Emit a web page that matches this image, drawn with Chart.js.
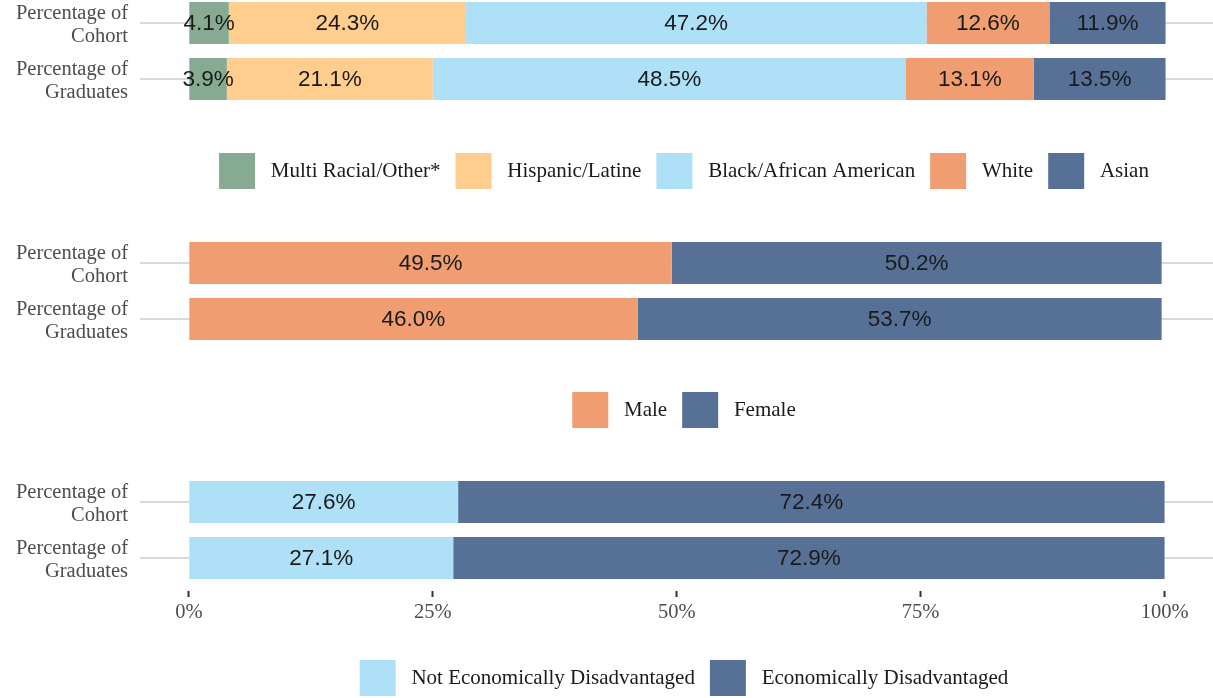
<!DOCTYPE html>
<html>
<head>
<meta charset="utf-8">
<script src="https://cdn.jsdelivr.net/npm/chart.js@4/dist/chart.umd.min.js"></script>
<style>
  html, body { margin: 0; padding: 0; background: #fff; overflow: hidden; }
  body { width: 1213px; height: 698px; position: relative; }
  canvas { position: absolute; left: 0; }
</style>
</head>
<body>
<canvas id="race" width="1228" height="204" style="top:-5px"></canvas>
<canvas id="gender" width="1228" height="203" style="top:235px"></canvas>
<canvas id="econ" width="1228" height="232" style="top:474px"></canvas>
<script>
const categories = [['Percentage of', 'Cohort'], ['Percentage of', 'Graduates']];

const raceSeries = ['Multi Racial/Other*', 'Hispanic/Latine', 'Black/African American', 'White', 'Asian'];
const raceCohort = [4.1, 24.3, 47.2, 12.6, 11.9];
const raceGraduates = [3.9, 21.1, 48.5, 13.1, 13.5];
const raceColors = ['#87ab92', '#ffce8f', '#aee0f8', '#f09e71', '#577096'];

const genderSeries = ['Male', 'Female'];
const genderCohort = [49.5, 50.2];
const genderGraduates = [46.0, 53.7];
const genderColors = ['#f09e71', '#577096'];

const econSeries = ['Not Economically Disadvantaged', 'Economically Disadvantaged'];
const econCohort = [27.6, 72.4];
const econGraduates = [27.1, 72.9];
const econColors = ['#aee0f8', '#577096'];

const xTicks = [0, 25, 50, 75, 100];

// writes the value in the middle of each bar segment
const barLabels = {
    id: 'barLabels',
    afterDatasetsDraw(chart) {
        const ctx = chart.ctx;
        ctx.save();
        ctx.font = '22.5px "Liberation Sans", Arial, sans-serif';
        ctx.fillStyle = '#1a1a1a';
        ctx.textAlign = 'center';
        ctx.textBaseline = 'middle';
        chart.data.datasets.forEach((ds, i) => {
            chart.getDatasetMeta(i).data.forEach((bar, j) => {
                const p = bar.getProps(['x', 'y', 'base'], true);
                ctx.fillText(ds.data[j].toFixed(1) + '%', (p.x + p.base) / 2, p.y + 1);
            });
        });
        ctx.restore();
    }
};

function makePanel(id, series, cohort, graduates, colors, showAxis, gap) {
    const datasets = series.map((name, i) => ({
        label: name,
        data: [cohort[i], graduates[i]],
        backgroundColor: colors[i],
        borderWidth: 0,
        barPercentage: 0.75,
        categoryPercentage: 1
    }));
    return new Chart(document.getElementById(id), {
        type: 'bar',
        data: { labels: categories, datasets: datasets },
        plugins: [barLabels],
        options: {
            indexAxis: 'y',
            responsive: false,
            animation: false,
            layout: { padding: 0 },
            scales: {
                x: {
                    stacked: true,
                    min: -5,
                    max: 106.5,
                    afterBuildTicks: s => { s.ticks = xTicks.map(v => ({ value: v })); },
                    afterFit: s => { s.height = gap; s.paddingLeft = 0; s.paddingRight = 0; },
                    border: { display: false },
                    grid: {
                        drawOnChartArea: false,
                        drawTicks: showAxis,
                        tickLength: 11,
                        tickBorderDash: [0, 5, 6, 100],
                        tickColor: '#333',
                        tickWidth: 2
                    },
                    ticks: {
                        display: showAxis,
                        padding: 3,
                        color: '#4d4d4d',
                        font: { family: '"Liberation Serif", serif', size: 20.5 },
                        callback: v => v + '%'
                    }
                },
                y: {
                    stacked: true,
                    afterFit: s => { s.width = 140; s.paddingTop = 0; s.paddingBottom = 0; },
                    border: { display: false },
                    grid: {
                        offset: false,
                        drawTicks: false,
                        color: '#dadada',
                        lineWidth: 2
                    },
                    ticks: {
                        autoSkip: false,
                        padding: 12,
                        labelOffset: 2,
                        color: '#4d4d4d',
                        font: { family: '"Liberation Serif", serif', size: 20.5, lineHeight: 1.12 }
                    }
                }
            },
            plugins: {
                legend: {
                    position: 'bottom',
                    fullSize: false,
                    labels: {
                        boxWidth: 36,
                        boxHeight: 36,
                        padding: 15,
                        color: '#1a1a1a',
                        font: { family: '"Liberation Serif", serif', size: 21 },
                        generateLabels: chart => Chart.defaults.plugins.legend.labels.generateLabels(chart)
                            .map(item => Object.assign(item, { text: ' ' + item.text }))
                    }
                },
                tooltip: { enabled: false }
            }
        }
    });
}

makePanel('race', raceSeries, raceCohort, raceGraduates, raceColors, false, 31);
makePanel('gender', genderSeries, genderCohort, genderGraduates, genderColors, false, 30);
makePanel('econ', econSeries, econCohort, econGraduates, econColors, true, 59);
</script>
</body>
</html>
